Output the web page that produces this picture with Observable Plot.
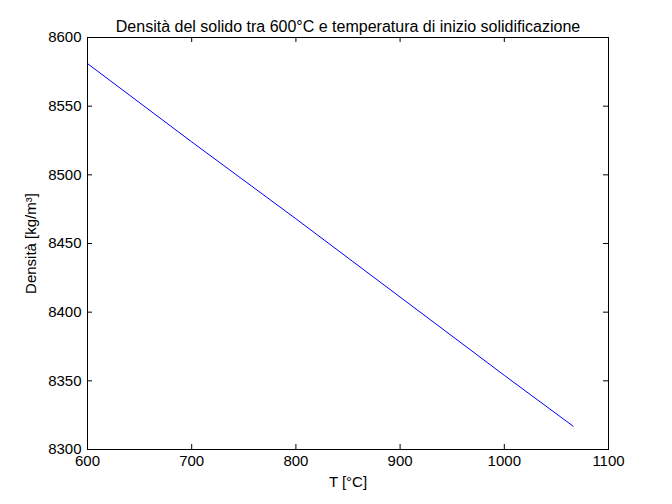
<!DOCTYPE html>
<html>
<head>
<meta charset="utf-8">
<script src="https://cdn.jsdelivr.net/npm/d3@7"></script>
<script src="https://cdn.jsdelivr.net/npm/@observablehq/plot@0.6"></script>
<style>
  html, body { margin: 0; padding: 0; background: #fff; }
</style>
</head>
<body>
<div id="chart"></div>
<script>
const titleText = "Densità del solido tra 600°C e temperatura di inizio solidificazione";
const xLabel = "T [°C]";
const yLabel = "Densità [kg/m³]";
const temperature = [600, 700, 800, 900, 1000, 1066];
const density = [8581, 8524, 8468, 8411, 8354, 8317];
const xTicks = [600, 700, 800, 900, 1000, 1100];
const yTicks = [8300, 8350, 8400, 8450, 8500, 8550, 8600];

const data = temperature.map((t, i) => ({t, rho: density[i]}));

const W = 672, H = 504;
const mL = 87, mR = 64, mT = 37, mB = 55;
const pw = W - mL - mR, ph = H - mT - mB;
const tk = 5;

const chart = Plot.plot({
  width: W,
  height: H,
  marginLeft: mL,
  marginRight: mR,
  marginTop: mT,
  marginBottom: mB,
  style: {fontFamily: "'Liberation Sans', Arial, sans-serif", fontSize: "15px", color: "#000", background: "#fff", overflow: "visible"},
  x: {domain: [600, 1100]},
  y: {domain: [8300, 8600]},
  marks: [
    Plot.axisX(xTicks, {tickSize: 0, tickPadding: 6, tickFormat: d => String(d), label: xLabel, labelAnchor: "center", labelOffset: 37, labelArrow: "none", fontSize: 15}),
    Plot.axisY(yTicks, {tickSize: 0, tickPadding: 6, tickFormat: d => String(d), label: yLabel, labelAnchor: "center", labelOffset: 62, labelArrow: "none", fontSize: 15}),
    Plot.tickX(xTicks, {x: d => d, stroke: "#000", insetTop: ph - tk}),
    Plot.tickX(xTicks, {x: d => d, stroke: "#000", insetBottom: ph - tk}),
    Plot.tickY(yTicks, {y: d => d, stroke: "#000", insetRight: pw - tk}),
    Plot.tickY(yTicks, {y: d => d, stroke: "#000", insetLeft: pw - tk}),
    Plot.line(data, {x: "t", y: "rho", stroke: "#0000ff", strokeWidth: 1}),
    Plot.frame({stroke: "#000"}),
    Plot.text([titleText], {text: d => d, frameAnchor: "top", dy: -17, fontSize: 16, fill: "#000"})
  ]
});
document.getElementById("chart").appendChild(chart);
</script>
</body>
</html>
